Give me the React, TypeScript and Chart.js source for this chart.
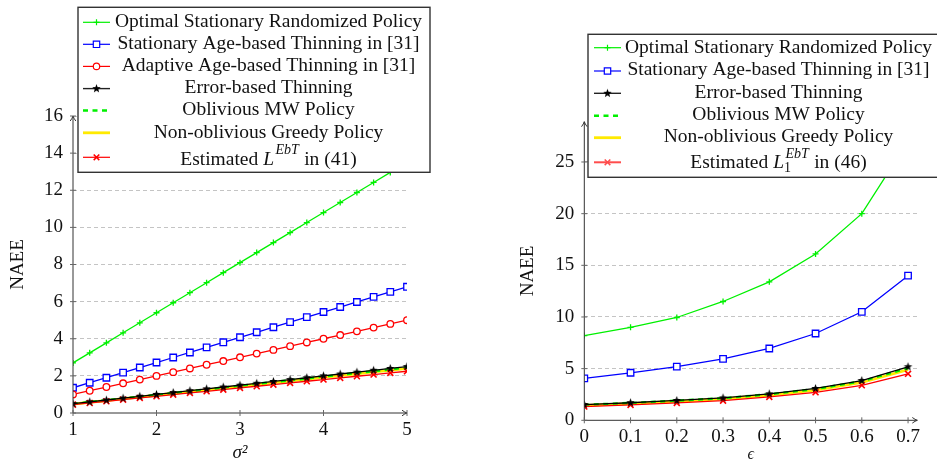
import React, { useEffect, useRef } from 'react';
import { Chart, registerables } from 'chart.js';

Chart.register(...registerables);

// ---------------- DATA ----------------
const SIGMA2 = [1, 1.2, 1.4, 1.6, 1.8, 2, 2.2, 2.4, 2.6, 2.8, 3, 3.2, 3.4, 3.6, 3.8, 4, 4.2, 4.4, 4.6, 4.8, 5];
const L_OPT = [2.7, 3.24, 3.78, 4.32, 4.86, 5.4, 5.94, 6.48, 7.02, 7.56, 8.1, 8.64, 9.18, 9.72, 10.26, 10.8, 11.34, 11.88, 12.42, 12.96, 13.5];
const L_SAT = [1.36, 1.63, 1.9, 2.18, 2.45, 2.72, 2.99, 3.26, 3.54, 3.81, 4.08, 4.35, 4.62, 4.9, 5.17, 5.44, 5.71, 5.98, 6.26, 6.53, 6.8];
const L_AAT = [1.0, 1.2, 1.4, 1.6, 1.8, 2.0, 2.2, 2.4, 2.6, 2.8, 3.0, 3.2, 3.4, 3.6, 3.8, 4.0, 4.2, 4.4, 4.6, 4.8, 5.0];
const L_EBT = [0.5, 0.6, 0.7, 0.8, 0.9, 1.0, 1.1, 1.2, 1.3, 1.4, 1.5, 1.6, 1.7, 1.8, 1.9, 2.0, 2.1, 2.2, 2.3, 2.4, 2.5];
const L_MW = [0.49, 0.59, 0.69, 0.78, 0.88, 0.98, 1.08, 1.18, 1.27, 1.37, 1.47, 1.57, 1.67, 1.76, 1.86, 1.96, 2.06, 2.16, 2.25, 2.35, 2.45];
const L_GREEDY = [0.48, 0.58, 0.67, 0.77, 0.86, 0.96, 1.06, 1.15, 1.25, 1.34, 1.44, 1.54, 1.63, 1.73, 1.82, 1.92, 2.02, 2.11, 2.21, 2.3, 2.4];
const L_EST = [0.45, 0.54, 0.63, 0.72, 0.81, 0.9, 0.99, 1.08, 1.17, 1.26, 1.35, 1.44, 1.53, 1.62, 1.71, 1.8, 1.89, 1.98, 2.07, 2.16, 2.25];

const EPS = [0, 0.1, 0.2, 0.3, 0.4, 0.5, 0.6, 0.7];
const R_OPT = [8.2, 9.0, 9.95, 11.5, 13.4, 16.1, 20.0, 27.0];
const R_SAT = [4.05, 4.6, 5.2, 5.95, 6.95, 8.4, 10.5, 14.0];
const R_EBT = [1.52, 1.7, 1.92, 2.17, 2.56, 3.08, 3.85, 5.18];
const R_MW = [1.5, 1.68, 1.9, 2.14, 2.52, 3.03, 3.78, 5.05];
const R_GREEDY = [1.45, 1.62, 1.83, 2.07, 2.45, 2.93, 3.66, 4.9];
const R_EST = [1.33, 1.49, 1.68, 1.9, 2.26, 2.71, 3.39, 4.5];

const LEFT_X_TICKS = [1, 2, 3, 4, 5];
const LEFT_Y_TICKS = [0, 2, 4, 6, 8, 10, 12, 14, 16];
const RIGHT_X_TICKS = [0, 0.1, 0.2, 0.3, 0.4, 0.5, 0.6, 0.7];
const RIGHT_Y_TICKS = [0, 5, 10, 15, 20, 25];

const LABEL_OPT = 'Optimal Stationary Randomized Policy';
const LABEL_SAT = 'Stationary Age-based Thinning in [31]';
const LABEL_AAT = 'Adaptive Age-based Thinning in [31]';
const LABEL_EBT = 'Error-based Thinning';
const LABEL_MW = 'Oblivious MW Policy';
const LABEL_GREEDY = 'Non-oblivious Greedy Policy';

// ---------------- STYLE ----------------
const FONT = "'Liberation Serif', 'Times New Roman', Times, serif";
const GREEN = '#00f000';
const BLUE = '#0000ff';
const RED = '#ff0000';
const BLACK = '#000000';
const YELLOW = '#ffea00';
const TEXT = '#111111';
const LEGEND_SIZE = 19.5;

type Marker = 'plus' | 'square' | 'circle' | 'star' | 'x' | 'none';
type Part = { t: string; it?: boolean; sup?: string; sub?: string };
interface Entry { parts: Part[]; color: string; width: number; dash: number[]; marker: Marker }
interface LegendLayout { box: { x: number; y: number; w: number; h: number }; sample: [number, number]; textCx: number; baselines: number[]; sampleYs: number[] }

function makeStar(r: number, color: string): HTMLCanvasElement {
  const c = document.createElement('canvas');
  const s = Math.ceil(r * 2 + 2);
  c.width = s; c.height = s;
  const g = c.getContext('2d')!;
  g.translate(s / 2, s / 2);
  g.beginPath();
  for (let i = 0; i < 10; i++) {
    const a = -Math.PI / 2 + (i * Math.PI) / 5;
    const rr = i % 2 ? r * 0.42 : r;
    g.lineTo(rr * Math.cos(a), rr * Math.sin(a));
  }
  g.closePath();
  g.fillStyle = color;
  g.fill();
  return c;
}

const STAR = typeof document !== 'undefined' ? makeStar(4.5, BLACK) : (null as any);

function drawMarker(ctx: CanvasRenderingContext2D, m: Marker, x: number, y: number, color: string) {
  ctx.save();
  ctx.strokeStyle = color;
  ctx.lineWidth = 1.2;
  ctx.setLineDash([]);
  ctx.beginPath();
  if (m === 'plus') {
    ctx.moveTo(x - 3, y); ctx.lineTo(x + 3, y); ctx.moveTo(x, y - 3); ctx.lineTo(x, y + 3); ctx.stroke();
  } else if (m === 'square') {
    ctx.fillStyle = '#fff'; ctx.rect(x - 3.2, y - 3.2, 6.4, 6.4); ctx.fill(); ctx.stroke();
  } else if (m === 'circle') {
    ctx.fillStyle = '#fff'; ctx.arc(x, y, 3.2, 0, Math.PI * 2); ctx.fill(); ctx.stroke();
  } else if (m === 'x') {
    ctx.lineWidth = 1.5;
    ctx.moveTo(x - 2.8, y - 2.8); ctx.lineTo(x + 2.8, y + 2.8); ctx.moveTo(x + 2.8, y - 2.8); ctx.lineTo(x - 2.8, y + 2.8); ctx.stroke();
  } else if (m === 'star' && STAR) {
    ctx.drawImage(STAR, x - STAR.width / 2, y - STAR.height / 2);
  }
  ctx.restore();
}

function drawRich(ctx: CanvasRenderingContext2D, parts: Part[], cx: number, baseline: number, size: number) {
  const small = Math.round(size * 0.7);
  const f = (it: boolean | undefined, sz: number) => `${it ? 'italic ' : ''}${sz}px ${FONT}`;
  const widths = parts.map((p) => {
    ctx.font = f(p.it, size);
    const w = ctx.measureText(p.t).width;
    let extra = 0;
    if (p.sup || p.sub) {
      ctx.font = f(true, small);
      const ws = p.sup ? ctx.measureText(p.sup).width : 0;
      ctx.font = f(false, small);
      const wb = p.sub ? ctx.measureText(p.sub).width : 0;
      extra = Math.max(ws, wb) + 2;
    }
    return { w, extra };
  });
  const total = widths.reduce((a, b) => a + b.w + b.extra, 0);
  let x = cx - total / 2;
  ctx.fillStyle = TEXT;
  ctx.textBaseline = 'alphabetic';
  ctx.textAlign = 'left';
  parts.forEach((p, i) => {
    ctx.font = f(p.it, size);
    ctx.fillText(p.t, x, baseline);
    x += widths[i].w;
    if (p.sup) {
      ctx.font = f(true, small);
      ctx.fillText(p.sup, x + 1.5, baseline - size * 0.55);
    }
    if (p.sub) {
      ctx.font = f(false, small);
      ctx.fillText(p.sub, x, baseline + size * 0.2);
    }
    x += widths[i].extra;
  });
}

function decorPlugin(id: string, layout: LegendLayout, entries: Entry[]) {
  return {
    id,
    afterDraw(chart: any) {
      const ctx: CanvasRenderingContext2D = chart.ctx;
      const xs = chart.scales.x;
      const ys = chart.scales.y;
      const { left, right, top, bottom } = chart.chartArea;
      ctx.save();
      // axis lines
      ctx.strokeStyle = '#333';
      ctx.lineWidth = 1;
      ctx.setLineDash([]);
      ctx.beginPath();
      ctx.moveTo(left, bottom); ctx.lineTo(right, bottom);
      ctx.moveTo(left, bottom); ctx.lineTo(left, top);
      ctx.stroke();
      // arrow heads
      ctx.beginPath();
      ctx.moveTo(right - 5, bottom - 2.8); ctx.quadraticCurveTo(right - 2, bottom - 0.6, right, bottom);
      ctx.quadraticCurveTo(right - 2, bottom + 0.6, right - 5, bottom + 2.8);
      ctx.moveTo(left - 2.8, top + 5); ctx.quadraticCurveTo(left - 0.6, top + 2, left, top);
      ctx.quadraticCurveTo(left + 0.6, top + 2, left + 2.8, top + 5);
      ctx.stroke();
      // tick marks
      ctx.strokeStyle = '#666';
      ctx.beginPath();
      xs.ticks.forEach((t: any) => {
        const px = xs.getPixelForValue(t.value);
        ctx.moveTo(px, bottom - 3); ctx.lineTo(px, bottom + 3);
      });
      ys.ticks.forEach((t: any) => {
        const py = ys.getPixelForValue(t.value);
        ctx.moveTo(left - 3, py); ctx.lineTo(left + 3, py);
      });
      ctx.stroke();
      // legend
      const b = layout.box;
      ctx.fillStyle = '#fff';
      ctx.fillRect(b.x, b.y, b.w, b.h);
      ctx.strokeStyle = '#333';
      ctx.lineWidth = 1.4;
      ctx.strokeRect(b.x, b.y, b.w, b.h);
      entries.forEach((e, i) => {
        const sy = layout.sampleYs[i];
        const [x0, x1] = layout.sample;
        ctx.save();
        ctx.strokeStyle = e.color;
        ctx.lineWidth = e.width;
        ctx.setLineDash(e.dash);
        ctx.beginPath();
        ctx.moveTo(x0, sy); ctx.lineTo(x1, sy);
        ctx.stroke();
        ctx.restore();
        drawMarker(ctx, e.marker, (x0 + x1) / 2, sy, e.color);
        drawRich(ctx, e.parts, layout.textCx, layout.baselines[i], LEGEND_SIZE);
      });
      ctx.restore();
    },
  };
}

function pts(xs: number[], ys: number[]) {
  return xs.map((x, i) => ({ x, y: ys[i] }));
}

function datasets(xv: number[], opt: number[], sat: number[] | null, aat: number[] | null, ebt: number[], mw: number[], gr: number[], est: number[]) {
  const ds: any[] = [];
  ds.push({ data: pts(xv, opt), borderColor: GREEN, borderWidth: 1.3, pointStyle: 'cross', pointRadius: 3, pointBorderColor: GREEN, pointBorderWidth: 1.3, order: 6 });
  if (sat) ds.push({ data: pts(xv, sat), borderColor: BLUE, borderWidth: 1.3, pointStyle: 'rect', pointRadius: 4.6, pointBorderColor: BLUE, pointBackgroundColor: '#fff', pointBorderWidth: 1.3, order: 5 });
  if (aat) ds.push({ data: pts(xv, aat), borderColor: RED, borderWidth: 1.3, pointStyle: 'circle', pointRadius: 3.3, pointBorderColor: RED, pointBackgroundColor: '#fff', pointBorderWidth: 1.3, order: 4 });
  ds.push({ data: pts(xv, gr), borderColor: YELLOW, borderWidth: 2.8, pointRadius: 0, order: 3 });
  ds.push({ data: pts(xv, mw), borderColor: GREEN, borderWidth: 2.4, borderDash: [5, 4.5], pointRadius: 0, order: 2 });
  ds.push({ data: pts(xv, est), borderColor: RED, borderWidth: 1.3, pointStyle: 'crossRot', pointRadius: 4.2, pointBorderColor: RED, pointBorderWidth: 1.6, order: 1 });
  ds.push({ data: pts(xv, ebt), borderColor: BLACK, borderWidth: 1.3, pointStyle: STAR, pointRadius: 4, order: 0 });
  return ds;
}

interface PanelCfg {
  xMin: number; xMax: number; yMin: number; yMax: number;
  xTicks: number[]; yTicks: number[];
  yWidth: number; xHeight: number; padTop: number; padRight: number;
  xTitle: string; xTitleSize: number; yTitlePad: number;
  xTickPad: number;
}

function makeOptions(c: PanelCfg): any {
  const tickFont = { family: FONT, size: 19 };
  return {
    responsive: false,
    maintainAspectRatio: false,
    animation: false,
    events: [],
    layout: { padding: { top: c.padTop, right: c.padRight, left: 0, bottom: 0 } },
    plugins: { legend: { display: false }, tooltip: { enabled: false }, title: { display: false } },
    elements: { line: { tension: 0, fill: false } },
    scales: {
      x: {
        type: 'linear',
        min: c.xMin,
        max: c.xMax,
        afterBuildTicks: (s: any) => { s.ticks = c.xTicks.map((v) => ({ value: v })); },
        afterFit: (s: any) => { s.height = c.xHeight; },
        grid: { display: false, drawTicks: false },
        border: { display: false },
        ticks: { font: tickFont, color: TEXT, padding: c.xTickPad, maxRotation: 0, autoSkip: false, callback: (v: any) => String(v) },
        title: { display: true, text: c.xTitle, color: TEXT, font: { family: FONT, size: c.xTitleSize, style: 'italic' }, padding: { top: 0, bottom: 0 } },
      },
      y: {
        type: 'linear',
        min: c.yMin,
        max: c.yMax,
        afterBuildTicks: (s: any) => { s.ticks = c.yTicks.map((v) => ({ value: v })); },
        afterFit: (s: any) => { s.width = c.yWidth; },
        grid: { color: (ctx: any) => (ctx.tick && ctx.tick.value === 0 ? 'rgba(0,0,0,0)' : '#c4c4c4'), lineWidth: 1, drawTicks: false },
        border: { display: false, dash: [4, 3] },
        ticks: { font: tickFont, color: TEXT, padding: 10, autoSkip: false, callback: (v: any) => String(v) },
        title: { display: true, text: 'NAEE', color: TEXT, font: { family: FONT, size: 19 }, padding: { top: c.yTitlePad, bottom: 0 } },
      },
    },
  };
}

const LEFT_ENTRIES: Entry[] = [
  { parts: [{ t: LABEL_OPT }], color: GREEN, width: 1.2, dash: [], marker: 'plus' },
  { parts: [{ t: LABEL_SAT }], color: BLUE, width: 1.2, dash: [], marker: 'square' },
  { parts: [{ t: LABEL_AAT }], color: RED, width: 1.2, dash: [], marker: 'circle' },
  { parts: [{ t: LABEL_EBT }], color: '#222', width: 1.4, dash: [], marker: 'star' },
  { parts: [{ t: LABEL_MW }], color: GREEN, width: 2.6, dash: [5, 4.5], marker: 'none' },
  { parts: [{ t: LABEL_GREEDY }], color: YELLOW, width: 2.8, dash: [], marker: 'none' },
  { parts: [{ t: 'Estimated ' }, { t: 'L', it: true, sup: 'EbT' }, { t: ' in (41)' }], color: RED, width: 1.2, dash: [], marker: 'x' },
];

const RIGHT_ENTRIES: Entry[] = [
  { parts: [{ t: LABEL_OPT }], color: GREEN, width: 1.2, dash: [], marker: 'plus' },
  { parts: [{ t: LABEL_SAT }], color: BLUE, width: 1.2, dash: [], marker: 'square' },
  { parts: [{ t: LABEL_EBT }], color: '#222', width: 1.4, dash: [], marker: 'star' },
  { parts: [{ t: LABEL_MW }], color: GREEN, width: 2.6, dash: [5, 4.5], marker: 'none' },
  { parts: [{ t: LABEL_GREEDY }], color: YELLOW, width: 2.8, dash: [], marker: 'none' },
  { parts: [{ t: 'Estimated ' }, { t: 'L', it: true, sup: 'EbT', sub: '1' }, { t: ' in (46)' }], color: '#ff4d4d', width: 2, dash: [], marker: 'x' },
];

const LEFT_LAYOUT: LegendLayout = {
  box: { x: 78, y: 7.3, w: 352, h: 165 },
  sample: [83, 110],
  textCx: 268.5,
  baselines: [27, 49.1, 71.2, 93.3, 115.4, 137.5, 164.8],
  sampleYs: [22.3, 44.3, 66.4, 88.6, 110.5, 132.8, 157.3],
};

const RIGHT_LAYOUT: LegendLayout = {
  box: { x: 118, y: 34.3, w: 420, h: 143 },
  sample: [124, 151],
  textCx: 308.5,
  baselines: [53.2, 75.4, 97.6, 119.8, 142, 168.3],
  sampleYs: [47.7, 71, 93.3, 115.7, 137.7, 162.3],
};

function Panel(props: { build: () => any; left: number; width: number }) {
  const ref = useRef<HTMLCanvasElement | null>(null);
  useEffect(() => {
    if (!ref.current) return;
    const chart = new Chart(ref.current, props.build());
    return () => chart.destroy();
  }, []);
  return (
    <canvas
      ref={ref}
      width={props.width}
      height={464}
      style={{ position: 'absolute', left: props.left, top: 0, width: props.width, height: 464 }}
    />
  );
}

export default function App() {
  const buildLeft = () => ({
    type: 'line',
    data: { datasets: datasets(SIGMA2, L_OPT, L_SAT, L_AAT, L_EBT, L_MW, L_GREEDY, L_EST) },
    options: makeOptions({
      xMin: 1, xMax: 5, yMin: 0, yMax: 16, xTicks: LEFT_X_TICKS, yTicks: LEFT_Y_TICKS,
      yWidth: 73, xHeight: 51, padTop: 116, padRight: 63,
      xTitle: 'σ²', xTitleSize: 19, yTitlePad: 6.9, xTickPad: 6,
    }),
    plugins: [decorPlugin('decorLeft', LEFT_LAYOUT, LEFT_ENTRIES)],
  });
  const buildRight = () => ({
    type: 'line',
    data: { datasets: datasets(EPS, R_OPT, R_SAT, null, R_EBT, R_MW, R_GREEDY, R_EST) },
    options: makeOptions({
      xMin: 0, xMax: 0.72, yMin: 0, yMax: 28.9, xTicks: RIGHT_X_TICKS, yTicks: RIGHT_Y_TICKS,
      yWidth: 114.3, xHeight: 43.7, padTop: 121.7, padRight: 19.7,
      xTitle: 'ϵ', xTitleSize: 16, yTitlePad: 46.9, xTickPad: 5,
    }),
    plugins: [decorPlugin('decorRight', RIGHT_LAYOUT, RIGHT_ENTRIES)],
  });
  return (
    <div style={{ position: 'absolute', left: 0, top: 0, width: 937, height: 464, background: '#fff', overflow: 'hidden' }}>
      <Panel build={buildLeft} left={0} width={470} />
      <Panel build={buildRight} left={470} width={467} />
    </div>
  );
}
